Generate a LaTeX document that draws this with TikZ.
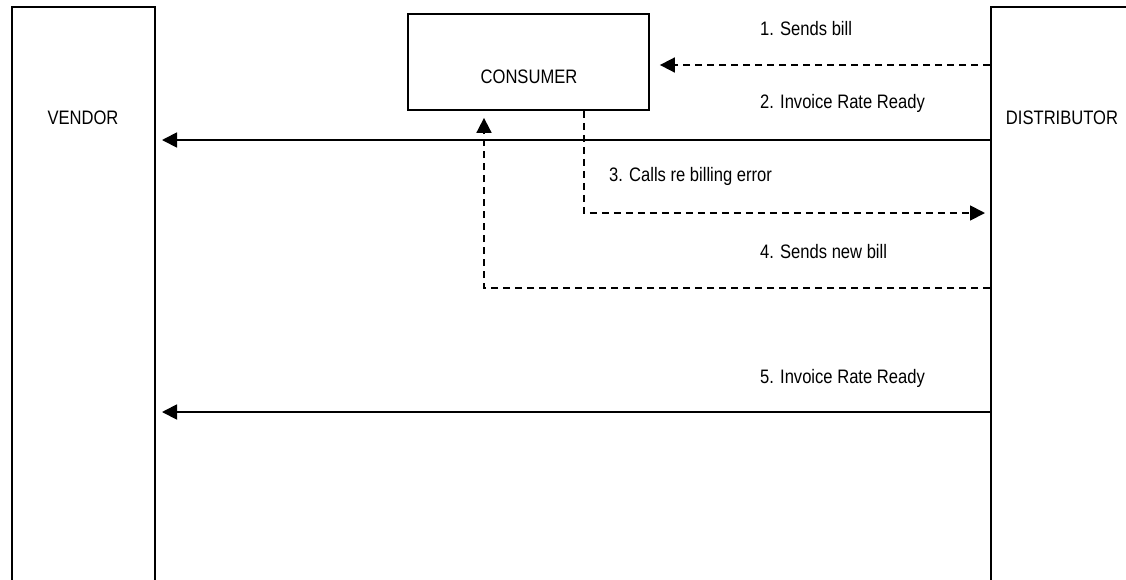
\documentclass[tikz,border=0pt]{standalone}
\usepackage{fontspec}
\setmainfont{Liberation Sans}[FakeStretch=0.85]
\usetikzlibrary{arrows.meta}
\tikzset{
	>={Triangle[length=15pt,width=15pt]},
	lane/.style={draw=black, line width=2pt, anchor=north west, inner sep=0pt},
	actor/.style={draw=black, line width=1.8pt, inner sep=0pt},
	msg/.style={black, line width=1.8pt, ->},
	reply/.style={black, line width=1.8pt, ->, dash pattern=on 7pt off 5pt},
	tag/.style={font=\fontsize{19.5}{22}\selectfont, inner sep=0pt, anchor=west},
	caption/.style={font=\fontsize{19.5}{22}\selectfont, inner sep=0pt},
}

\begin{document}
\begin{tikzpicture}[x=1pt, y=-1pt]
		\useasboundingbox (0,0) rectangle (1126,579);
		\clip (0,0) rectangle (1126,579);
		
		% lanes (cut off by the page)
		\node[lane, minimum width=143pt, minimum height=620pt] (vendor) at (11,6) {};
		\node[lane, minimum width=200pt, minimum height=620pt] (distributor) at (990,6) {};
		\node[caption] (vendortxt) at (83,118) {VENDOR};
		\node[caption] (distributortxt) at (1062,118) {DISTRIBUTOR};
		
		% consumer box
		\node[actor, minimum width=241pt, minimum height=96pt] (consumer) at (528.5,62) {};
		\node[caption] (consumertxt) at (529,77) {CONSUMER};
		
		% messages
		\draw[reply] (distributor.west |- 0,65) -- ([xshift=10pt]consumer.east |- 0,65);
		\node[tag] (m1) at (760,29) {1. Sends bill};
		
		\draw[msg] (distributor.west |- 0,140) -- ([xshift=6pt]vendor.east |- 0,140);
		\node[tag] (m2) at (760,103) {2. Invoice Rate Ready};
		
		\draw[reply] ([xshift=55.5pt]consumer.south) |- ([xshift=-5pt]distributor.west |- 0,213);
		\node[tag] (m3) at (609,176) {3. Calls re billing error};
		
		\draw[reply] (distributor.west |- 0,288) -| ([xshift=-44.5pt,yshift=-7pt]consumer.south);
		\node[tag] (m4) at (760,252) {4. Sends new bill};
		
		\draw[msg] (distributor.west |- 0,412) -- ([xshift=6pt]vendor.east |- 0,412);
		\node[tag] (m5) at (760,378) {5. Invoice Rate Ready};
	\end{tikzpicture}
\end{document}
